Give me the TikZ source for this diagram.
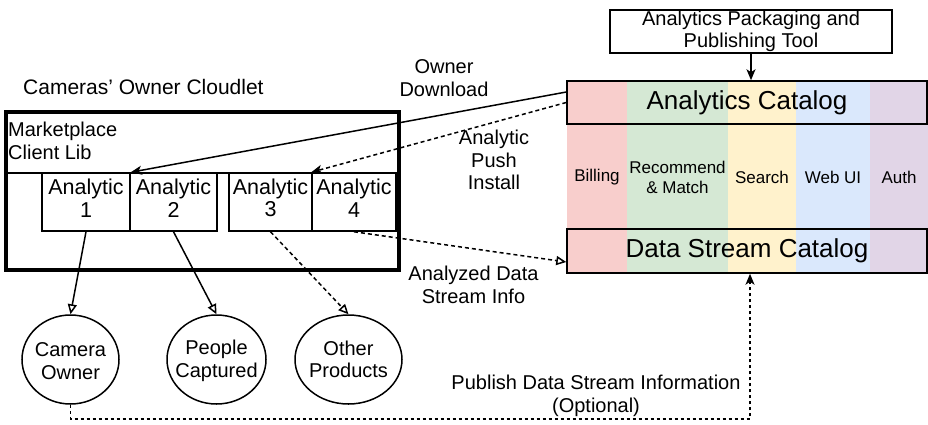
\documentclass[tikz,border=0pt]{standalone}
\usepackage{fontspec}
\setmainfont{Liberation Sans}
\usetikzlibrary{arrows.meta,shapes.geometric}
\definecolor{cRed}{HTML}{F8CECC}
\definecolor{cGreen}{HTML}{D5E8D4}
\definecolor{cYellow}{HTML}{FFF2CC}
\definecolor{cBlue}{HTML}{DAE8FC}
\definecolor{cPurple}{HTML}{E1D5E7}
\begin{document}
\begin{tikzpicture}[x=1pt,y=-1pt,
  font=\fontsize{20}{22.5}\selectfont,
  boxn/.style={draw, line width=1.5pt, inner sep=0pt, align=center},
  anbox/.style={boxn, minimum height=58pt},
  antxt/.style={inner sep=0pt, align=center, yshift=4pt, font=\fontsize{21.5}{22.5}\selectfont},
  band/.style={inner sep=0pt, minimum height=192pt, align=center, font=\fontsize{17}{20}\selectfont},
  ell/.style={draw, line width=1.5pt, ellipse, inner sep=0pt},
  lbl/.style={inner sep=0pt, align=center},
  conn/.style={line width=1.5pt},
  fillarr/.style={conn, -{Stealth[length=11pt,width=9pt,inset=3pt]}},
  openarr/.style={conn, -{Triangle[open,length=10pt,width=9pt,fill=white]}},
  dsh/.style={dash pattern=on 4pt off 3pt},
  dsh2/.style={dash pattern=on 3pt off 3pt}]
\useasboundingbox (0,0) rectangle (928,424);

% colour bands
\node[band, fill=cRed,    minimum width=60pt]  (bBill) at (597,177)   {Billing};
\node[band, fill=cGreen,  minimum width=101pt] (bRec)  at (677.5,177) {Recommend\\\& Match};
\node[band, fill=cYellow, minimum width=68pt]  (bSea)  at (762,177)   {Search};
\node[band, fill=cBlue,   minimum width=74pt]  (bWeb)  at (833,177)   {Web UI};
\node[band, fill=cPurple, minimum width=58pt]  (bAuth) at (899,177)   {Auth};

% right side boxes
\node[boxn, fill=white, minimum width=282pt, minimum height=43pt] (pkg) at (751,31.5)
  {Analytics Packaging and\\Publishing Tool};
\node[boxn, minimum width=360pt, minimum height=43pt, font=\fontsize{26}{28}\selectfont] (acat) at (747,102.5)
  {Analytics Catalog};
\node[boxn, minimum width=360pt, minimum height=44pt, font=\fontsize{26}{28}\selectfont] (dcat) at (747,251)
  {Data Stream Catalog};

% cloudlet
\node[lbl, anchor=west, font=\fontsize{21}{23}\selectfont] (ttl) at (23,87) {Cameras' Owner Cloudlet};
\node[boxn, minimum width=393pt, minimum height=61pt] (mcl) at (202.5,142.5) {};
\node[lbl, anchor=west, align=left] (mcltxt) at (8,141) {Marketplace\\Client Lib};
\node[draw, line width=4pt, inner sep=0pt, minimum width=393pt, minimum height=158pt] (cloud) at (202.5,191) {};
\node[anbox, minimum width=88pt, label={[antxt]center:Analytic\\1}] (a1) at (86,202)    {};
\node[anbox, minimum width=87pt, label={[antxt]center:Analytic\\2}] (a2) at (173.5,202) {};
\node[anbox, minimum width=83pt, label={[antxt]center:Analytic\\3}] (a3) at (270.5,202) {};
\node[anbox, minimum width=84pt, label={[antxt]center:Analytic\\4}] (a4) at (354,202)   {};

% ellipses
\node[ell, minimum width=97pt,  minimum height=89pt, label={[lbl,yshift=-1.5pt]center:Camera\\Owner}]     (co) at (70.5,359.5)  {};
\node[ell, minimum width=99pt,  minimum height=89pt, label={[lbl,yshift=-1.5pt]center:People\\Captured}]  (pc) at (216.5,359.5) {};
\node[ell, minimum width=107pt, minimum height=89pt, label={[lbl]center:Other\\Products}]   (op) at (348.5,359.5) {};

% edge labels
\node[lbl] (lOwn) at (444,78)  {Owner\\Download};
\node[lbl] (lPush) at (494,160) {Analytic\\Push\\Install};
\node[lbl] (lAna) at (473.5,285) {Analyzed Data\\Stream Info};
\node[lbl] (lPub) at (596,396) {Publish Data Stream Information\\(Optional)};

% connectors
\draw[fillarr] (pkg.south) -- (pkg.south |- acat.north);
\draw[fillarr] ([yshift=10.5pt]acat.west) -- (a1.north east);
\draw[fillarr, dsh] (acat.west) -- (a4.north west);
\draw[openarr, dsh] (a4.south) -- ([yshift=-11pt]dcat.west);
\draw[openarr] (a1.south) -- (co.north);
\draw[openarr] (a2.south) -- (pc.north);
\draw[openarr, dsh] (a3.south) -- (op.north);
\draw[fillarr, dsh2] (co.south) -- ++(0,14) -| ([xshift=3pt]dcat.south);
\end{tikzpicture}
\end{document}
